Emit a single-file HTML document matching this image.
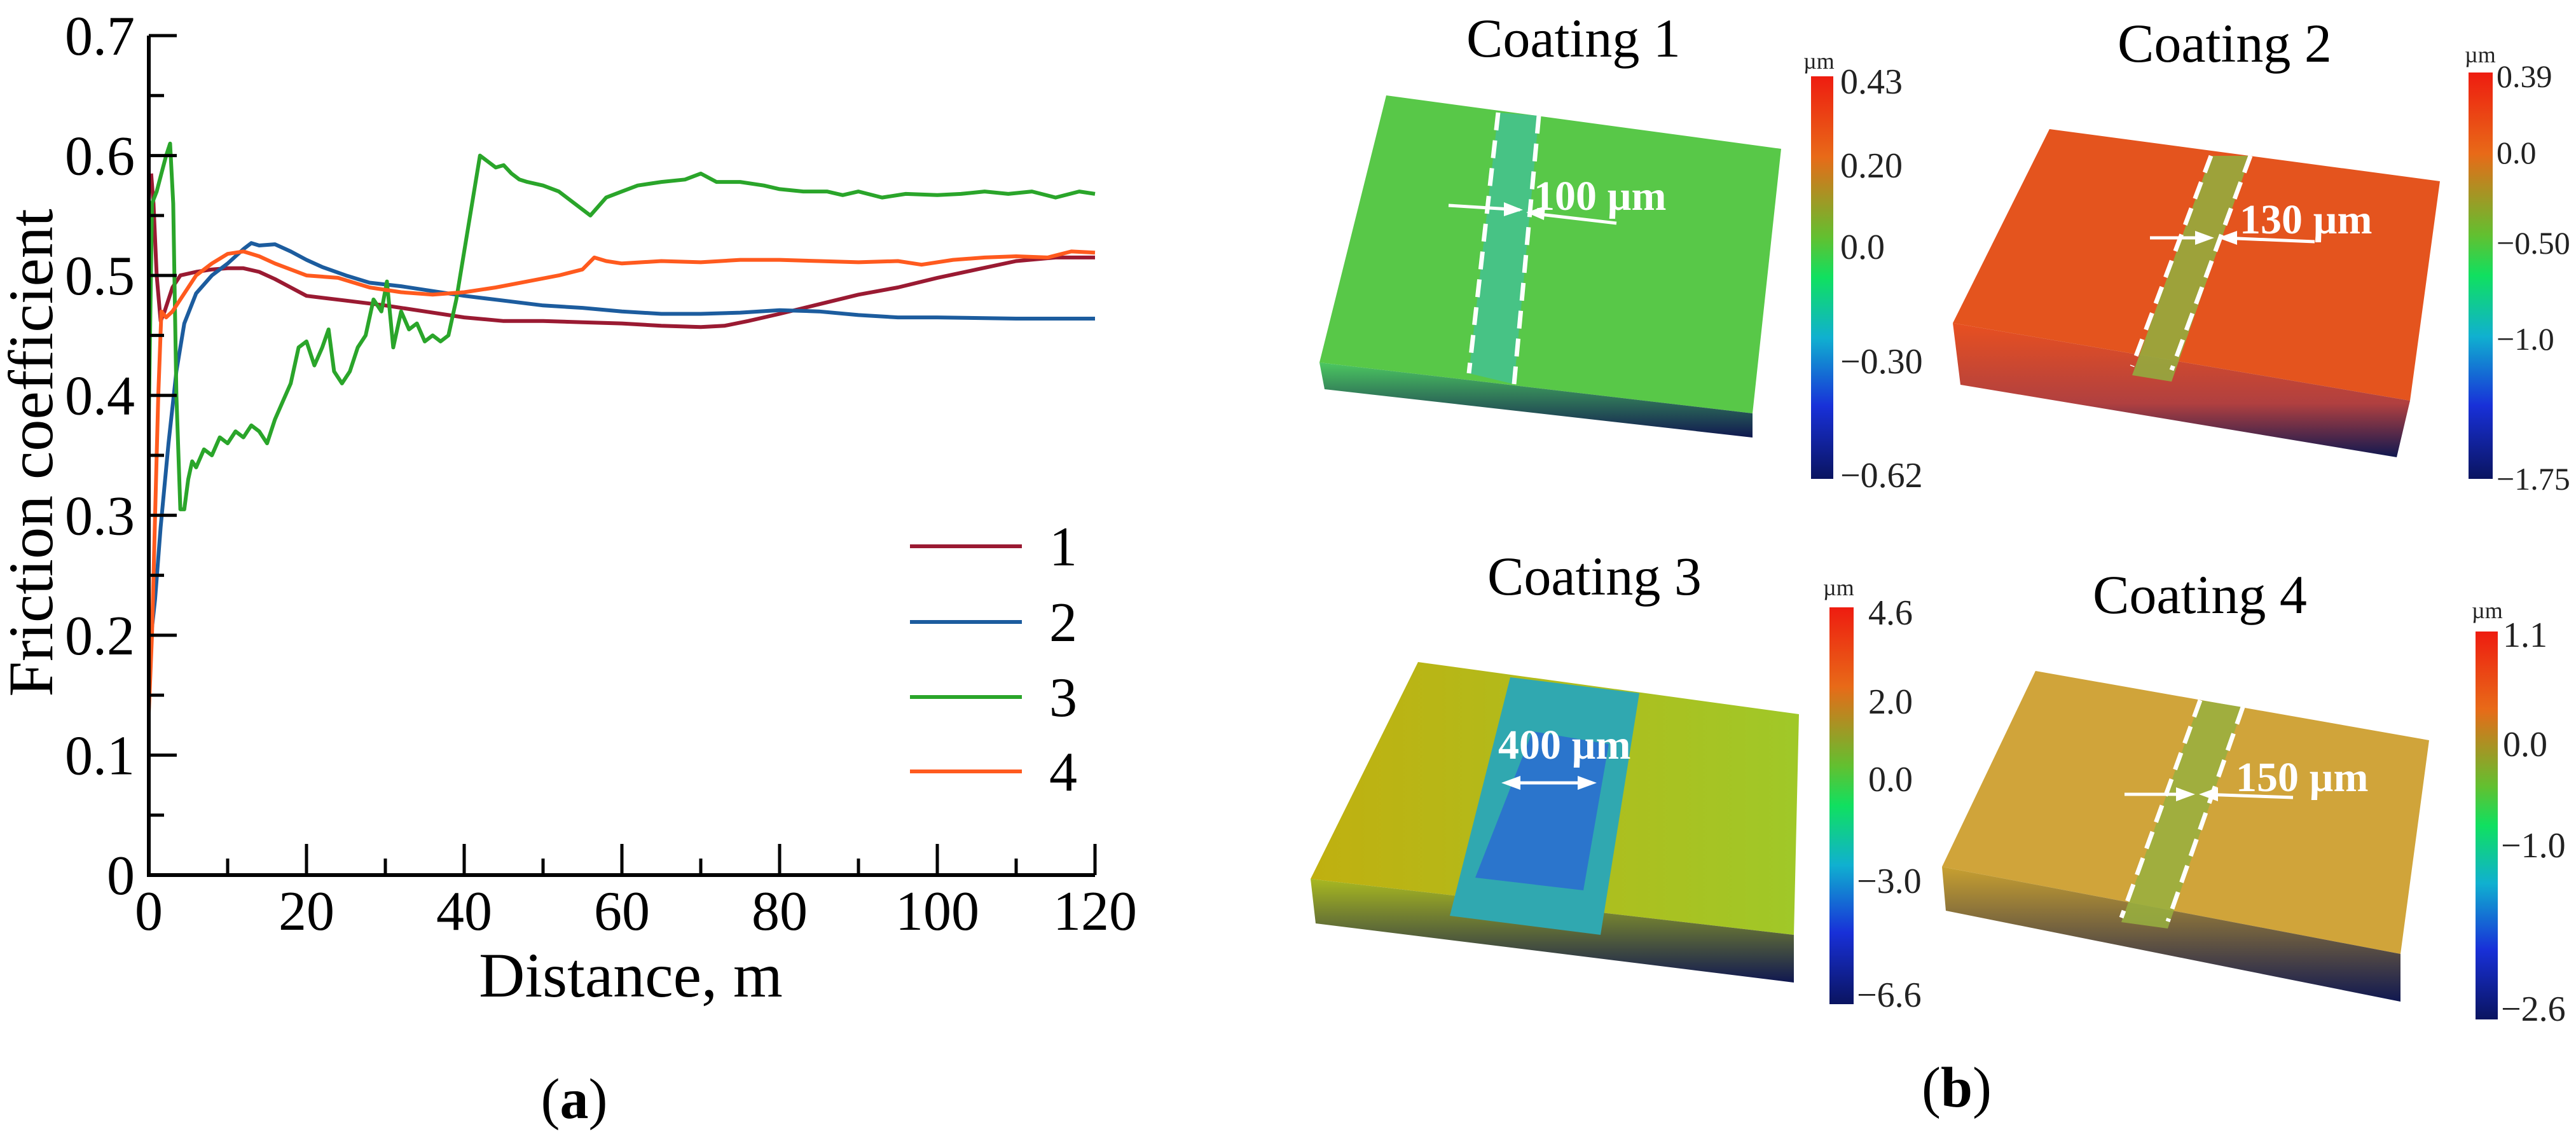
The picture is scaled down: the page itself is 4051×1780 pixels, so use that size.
<!DOCTYPE html>
<html><head><meta charset="utf-8"><style>
html,body{margin:0;padding:0;background:#fff;}
svg{display:block;font-family:"Liberation Serif",serif;}
</style></head><body>
<svg id="fig" width="4051" height="1780" viewBox="0 0 4051 1780">
<defs>
<linearGradient id="cbar" x1="0" y1="0" x2="0" y2="1">
<stop offset="0" stop-color="#ee1c10"/><stop offset="0.2" stop-color="#e86a18"/><stop offset="0.4" stop-color="#62c030"/><stop offset="0.5" stop-color="#10e060"/><stop offset="0.65" stop-color="#10b0d0"/><stop offset="0.82" stop-color="#1830d8"/><stop offset="1" stop-color="#0a1460"/>
</linearGradient>
<linearGradient id="band1" x1="0" y1="0" x2="0" y2="1"><stop offset="0" stop-color="#4cc860"/><stop offset="1" stop-color="#101850"/></linearGradient>
<linearGradient id="band2" x1="0" y1="0" x2="0" y2="1"><stop offset="0" stop-color="#e85020"/><stop offset="0.6" stop-color="#b04040"/><stop offset="1" stop-color="#101850"/></linearGradient>
<linearGradient id="band3" x1="0" y1="0" x2="0" y2="1"><stop offset="0" stop-color="#a8b820"/><stop offset="1" stop-color="#101850"/></linearGradient>
<linearGradient id="band4" x1="0" y1="0" x2="0" y2="1"><stop offset="0" stop-color="#c8a030"/><stop offset="1" stop-color="#101850"/></linearGradient>
<linearGradient id="face3" x1="0" y1="0" x2="1" y2="0"><stop offset="0" stop-color="#c0b010"/><stop offset="1" stop-color="#a0c828"/></linearGradient>
</defs>

<g id="chart"></g>
<text x="903" y="1758" font-size="90" text-anchor="middle">(<tspan font-weight="bold">a</tspan>)</text>

<g>
<text x="2306" y="89" font-size="86">Coating 1</text>
<polygon points="2180,150 2801,234 2756,650 2075,570" fill="#58c848"/>
<polygon points="2075,570 2756,650 2756,688 2083,612" fill="url(#band1)"/>
<polygon points="2356,177 2420,182 2381,604 2310,587" fill="#40c0a0" opacity="0.7"/>
<line x1="2356" y1="177" x2="2310" y2="587" stroke="#fff" stroke-width="7" stroke-dasharray="28,16"/>
<line x1="2420" y1="182" x2="2381" y2="604" stroke="#fff" stroke-width="7" stroke-dasharray="28,16"/>
<line x1="2278" y1="323" x2="2390" y2="330" stroke="#fff" stroke-width="5"/>
<polygon points="2395,330 2365,318 2365,340" fill="#fff"/>
<line x1="2405" y1="335" x2="2542" y2="351" stroke="#fff" stroke-width="5"/>
<polygon points="2400,334 2430,324 2428,346" fill="#fff"/>
<text x="2412" y="330" font-size="66" font-weight="bold" fill="#fff">100 µm</text>
<rect x="2848" y="120" width="35" height="633" fill="url(#cbar)"/>
<g font-size="56" fill="#222">
<text x="2836" y="108" font-size="36">µm</text>
<text x="2894" y="147">0.43</text><text x="2894" y="279">0.20</text><text x="2894" y="407">0.0</text><text x="2894" y="587">−0.30</text><text x="2894" y="766">−0.62</text></g>
</g>

<g>
<text x="3330" y="97" font-size="86">Coating 2</text>
<polygon points="3223,203 3837,285 3790,630 3071,508" fill="#e4541e"/>
<polygon points="3071,508 3790,630 3769,719 3083,605" fill="url(#band2)"/>
<polygon points="3477,245 3539,245 3415,600 3353,590" fill="#90b040" opacity="0.85"/>
<line x1="3477" y1="245" x2="3353" y2="576" stroke="#fff" stroke-width="7" stroke-dasharray="28,16"/>
<line x1="3539" y1="245" x2="3415" y2="582" stroke="#fff" stroke-width="7" stroke-dasharray="28,16"/>
<line x1="3381" y1="374" x2="3475" y2="374" stroke="#fff" stroke-width="5"/>
<polygon points="3482,374 3452,363 3452,385" fill="#fff"/>
<line x1="3495" y1="374" x2="3640" y2="380" stroke="#fff" stroke-width="5"/>
<polygon points="3488,374 3518,363 3518,385" fill="#fff"/>
<text x="3522" y="367" font-size="66" font-weight="bold" fill="#fff">130 µm</text>
<rect x="3882" y="114" width="38" height="639" fill="url(#cbar)"/>
<g font-size="50" fill="#222">
<text x="3876" y="98" font-size="36">µm</text>
<text x="3926" y="137">0.39</text><text x="3926" y="257">0.0</text><text x="3926" y="399">−0.50</text><text x="3926" y="550">−1.0</text><text x="3926" y="770">−1.75</text></g>
</g>

<g>
<text x="2339" y="935" font-size="86">Coating 3</text>
<polygon points="2230,1041 2829,1123 2821,1470 2061,1382" fill="url(#face3)"/>
<polygon points="2061,1382 2821,1470 2821,1545 2069,1452" fill="url(#band3)"/>
<polygon points="2375,1065 2578,1090 2517,1470 2280,1440" fill="#30a8b0"/>
<polygon points="2410,1150 2530,1170 2490,1400 2320,1380" fill="#2a60d8" opacity="0.7"/>
<line x1="2370" y1="1231" x2="2500" y2="1231" stroke="#fff" stroke-width="5"/>
<polygon points="2361,1231 2391,1220 2391,1242" fill="#fff"/>
<polygon points="2511,1231 2481,1220 2481,1242" fill="#fff"/>
<text x="2356" y="1193" font-size="66" font-weight="bold" fill="#fff">400 µm</text>
<rect x="2877" y="955" width="38" height="624" fill="url(#cbar)"/>
<g font-size="56" fill="#222">
<text x="2867" y="936" font-size="36">µm</text>
<text x="2938" y="982">4.6</text><text x="2938" y="1122">2.0</text><text x="2938" y="1244">0.0</text><text x="2920" y="1404">−3.0</text><text x="2920" y="1583">−6.6</text></g>
</g>

<g>
<text x="3291" y="964" font-size="86">Coating 4</text>
<polygon points="3201,1055 3820,1164 3775,1500 3054,1363" fill="#d0a43a"/>
<polygon points="3054,1363 3775,1500 3775,1575 3060,1432" fill="url(#band4)"/>
<polygon points="3460,1101 3527,1112 3409,1460 3336,1450" fill="#98b040" opacity="0.85"/>
<line x1="3460" y1="1101" x2="3336" y2="1443" stroke="#fff" stroke-width="7" stroke-dasharray="28,16"/>
<line x1="3527" y1="1112" x2="3409" y2="1449" stroke="#fff" stroke-width="7" stroke-dasharray="28,16"/>
<line x1="3341" y1="1249" x2="3445" y2="1249" stroke="#fff" stroke-width="5"/>
<polygon points="3452,1249 3422,1238 3422,1260" fill="#fff"/>
<line x1="3465" y1="1249" x2="3606" y2="1254" stroke="#fff" stroke-width="5"/>
<polygon points="3458,1249 3488,1238 3488,1260" fill="#fff"/>
<text x="3516" y="1244" font-size="66" font-weight="bold" fill="#fff">150 µm</text>
<rect x="3893" y="993" width="35" height="610" fill="url(#cbar)"/>
<g font-size="56" fill="#222">
<text x="3887" y="972" font-size="36">µm</text>
<text x="3936" y="1017">1.1</text><text x="3936" y="1189">0.0</text><text x="3933" y="1348">−1.0</text><text x="3933" y="1605">−2.6</text></g>
</g>
<text x="3077" y="1740" font-size="90" text-anchor="middle">(<tspan font-weight="bold">b</tspan>)</text>
</svg>
<script>
const xTicks = [0,20,40,60,80,100,120];
const yTicks = [0,0.1,0.2,0.3,0.4,0.5,0.6,0.7];
const yTickLabels = ["0","0.1","0.2","0.3","0.4","0.5","0.6","0.7"];
const seriesNames = ["1","2","3","4"];
const seriesColors = ["#9a1a32","#1c5c9e","#2aa52a","#ff5a1e"];
const x1 = [0.3,0.6,1,1.5,2,3,4,6,8,10,12,14,16,18,20,25,30,35,40,45,50,55,60,65,70,73,76,80,85,90,95,100,105,110,115,120];
const y1 = [0.585,0.56,0.5,0.462,0.47,0.49,0.5,0.503,0.505,0.506,0.506,0.503,0.497,0.49,0.483,0.479,0.475,0.47,0.465,0.462,0.462,0.461,0.46,0.458,0.457,0.458,0.462,0.468,0.476,0.484,0.49,0.498,0.505,0.512,0.515,0.515];
const x2 = [0.3,0.8,1.5,2.5,3.5,4.5,6,8,10,12,13,14,16,18,20,22,25,28,32,35,40,45,50,55,60,65,70,75,80,85,90,95,100,110,120];
const y2 = [0.2,0.23,0.29,0.36,0.42,0.46,0.485,0.5,0.51,0.522,0.527,0.525,0.526,0.52,0.513,0.507,0.5,0.494,0.491,0.488,0.483,0.479,0.475,0.473,0.47,0.468,0.468,0.469,0.471,0.47,0.467,0.465,0.465,0.464,0.464];
const x3 = [0,0.4,1,1.6,2.2,2.7,3.1,3.5,4,4.5,5,5.5,6,7,8,9,10,11,12,13,14,15,16,17,18,19,20,21,22,22.8,23.5,24.5,25.5,26.5,27.5,28.5,29.5,30.2,31,32,33,34,35,36,37,38,39,40,41,42,43,44,45,46,47,48,50,52,54,56,58,60,62,65,68,70,72,75,78,80,83,86,88,90,93,96,100,103,106,109,112,115,118,120];
const y3 = [0.38,0.56,0.57,0.585,0.6,0.61,0.56,0.4,0.305,0.305,0.33,0.345,0.34,0.355,0.35,0.365,0.36,0.37,0.365,0.375,0.37,0.36,0.38,0.395,0.41,0.44,0.445,0.425,0.44,0.455,0.42,0.41,0.42,0.44,0.45,0.48,0.47,0.495,0.44,0.47,0.455,0.46,0.445,0.45,0.445,0.45,0.48,0.52,0.56,0.6,0.595,0.59,0.592,0.585,0.58,0.578,0.575,0.57,0.56,0.55,0.565,0.57,0.575,0.578,0.58,0.585,0.578,0.578,0.575,0.572,0.57,0.57,0.567,0.57,0.565,0.568,0.567,0.568,0.57,0.568,0.57,0.565,0.57,0.568];
const x4 = [0,0.4,0.8,1.2,1.6,2.2,3,4,5,6,8,10,12,14,16,18,20,24,28,32,36,40,44,48,52,55,56.5,58,60,65,70,75,80,85,90,95,98,102,106,110,114,117,120];
const y4 = [0.135,0.2,0.3,0.4,0.47,0.465,0.47,0.48,0.49,0.5,0.51,0.518,0.52,0.516,0.51,0.505,0.5,0.498,0.49,0.486,0.484,0.486,0.49,0.495,0.5,0.505,0.515,0.512,0.51,0.512,0.511,0.513,0.513,0.512,0.511,0.512,0.509,0.513,0.515,0.516,0.515,0.52,0.519];
const seriesX = [x1,x2,x3,x4];
const seriesY = [y1,y2,y3,y4];

const NS = "http://www.w3.org/2000/svg";
const X0 = 234, X1 = 1722, Y0 = 1376, Y1 = 56;
function sx(v){ return X0 + (v - 0) / 120 * (X1 - X0); }
function sy(v){ return Y0 - v / 0.7 * (Y0 - Y1); }
const chart = document.getElementById('chart');
function mk(tag, attrs){ const e = document.createElementNS(NS, tag); for (const k in attrs) e.setAttribute(k, attrs[k]); return e; }

for (let s = 0; s < seriesY.length; s++) {
  const d = seriesX[s].map((x, i) => (i ? 'L' : 'M') + sx(x).toFixed(1) + ',' + sy(seriesY[s][i]).toFixed(1)).join(' ');
  const p = mk('path', {d: d, fill: 'none', stroke: seriesColors[s], 'stroke-width': 6, 'stroke-linejoin': 'round'});
  
  
  chart.appendChild(p);
}
const axes = mk('path', {d: `M${X0},${Y1} V${Y0} H${X1}`, fill: 'none', stroke: '#000', 'stroke-width': 6});


chart.appendChild(axes);
for (let v = 0; v <= 120; v += 10) {
  const major = v % 20 === 0;
  const t = mk('line', {x1: sx(v), x2: sx(v), y1: Y0, y2: Y0 - (major ? 49 : 26), stroke: '#000', 'stroke-width': 5});
  
  
  chart.appendChild(t);
}
xTicks.forEach(v => {
  const t = mk('text', {x: sx(v), y: 1462, 'font-size': 88, 'text-anchor': 'middle'});
  t.textContent = String(v);
  
  
  chart.appendChild(t);
});
for (let i = 0; i <= 14; i++) {
  const v = i * 0.05;
  const major = i % 2 === 0;
  const t = mk('line', {x1: X0, x2: X0 + (major ? 44 : 24), y1: sy(v), y2: sy(v), stroke: '#000', 'stroke-width': 5});
  
  
  chart.appendChild(t);
}
yTicks.forEach((v, i) => {
  const t = mk('text', {x: 212, y: sy(v) + 30, 'font-size': 88, 'text-anchor': 'end'});
  t.textContent = yTickLabels[i];
  
  
  chart.appendChild(t);
});
const xt = mk('text', {x: 992, y: 1567, 'font-size': 100, 'text-anchor': 'middle'});
xt.textContent = 'Distance, m';


chart.appendChild(xt);
const yt = mk('text', {x: 0, y: 0, 'font-size': 100, 'text-anchor': 'middle', transform: 'translate(82,712) rotate(-90)'});
yt.textContent = 'Friction coefficient';


chart.appendChild(yt);
const legY = [859, 978, 1096, 1213];
seriesNames.forEach((n, i) => {
  const l = mk('line', {x1: 1431, x2: 1607, y1: legY[i], y2: legY[i], stroke: seriesColors[i], 'stroke-width': 6});
  
  
  chart.appendChild(l);
  const t = mk('text', {x: 1672, y: legY[i] + 30, 'font-size': 88, 'text-anchor': 'middle'});
  t.textContent = n;
  
  
  chart.appendChild(t);
});
</script>
</body></html>
